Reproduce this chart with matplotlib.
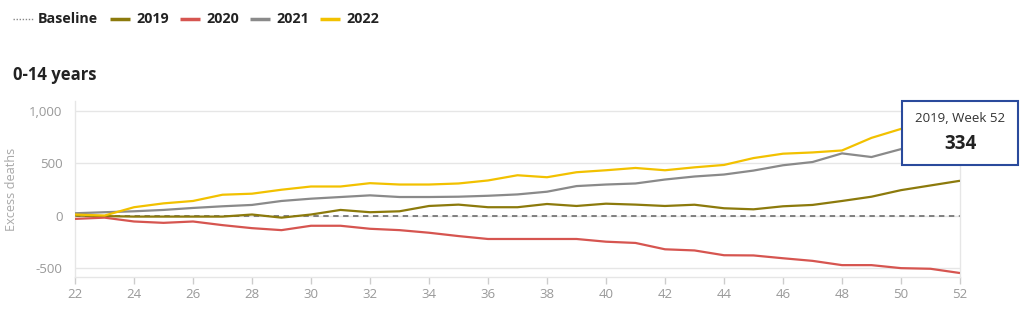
import numpy as np
import matplotlib
matplotlib.use("Agg")
import matplotlib.pyplot as plt
from matplotlib.lines import Line2D
from matplotlib.patches import Rectangle

plt.rcParams['font.family'] = ['Open Sans', 'DejaVu Sans']

# Weekly excess deaths, ages 0-14
weeks = list(range(22, 53))
deaths_2019 = [0, -5, -10, -10, -10, -10, 10, -20, 10, 54, 32, 41, 92, 105, 80, 80,
               111, 92, 114, 105, 92, 104, 70, 60, 89, 102, 140, 181, 244, 289, 334]
deaths_2020 = [-32, -20, -57, -70, -57, -92, -121, -140, -98, -98, -127, -140, -165, -197,
               -225, -225, -225, -225, -251, -263, -324, -335, -381, -383, -410, -435,
               -476, -476, -505, -511, -552]
deaths_2021 = [22, 32, 41, 54, 73, 89, 102, 140, 162, 178, 194, 178, 178, 181, 190, 203,
               229, 283, 298, 308, 346, 375, 394, 432, 483, 514, 597, 562, 638, 690, 730]
deaths_2022 = [10, 0, 80, 117, 140, 200, 210, 248, 279, 279, 311, 298, 298, 308, 337, 387,
               368, 416, 435, 457, 435, 463, 486, 552, 594, 606, 625, 746, 832, 900, 960]
series_names = ["2019", "2020", "2021", "2022"]
series_colors = ["#8c7a0c", "#d65550", "#8a8a8a", "#f2c100"]
yticks = [-500, 0, 500, 1000]
xticks = list(range(22, 53, 2))

W, H = 1024, 323
fig = plt.figure(figsize=(W / 100, H / 100), dpi=100)
ax = fig.add_axes([75 / W, 1 - 277 / H, (960 - 75) / W, (277 - 101) / H])

grey_txt = "#a6a6a6"
grid_c = "#e6e6e6"

ax.plot(weeks, [0] * len(weeks), color="#777777", lw=1.3, ls=(0, (3, 2.5)), zorder=2)
for vals, c in zip([deaths_2019, deaths_2020, deaths_2021, deaths_2022], series_colors):
    ax.plot(weeks, vals, color=c, lw=1.6, zorder=3, solid_capstyle="butt")

ax.set_xlim(22, 52)
ax.set_ylim(-590, 1100)
ax.set_xticks(xticks)
ax.set_yticks(yticks)
ax.set_yticklabels([f"{v:,}" for v in yticks])
ax.tick_params(axis="both", colors=grey_txt, labelsize=9.5, labelcolor="#999999")
ax.tick_params(axis="y", length=0, pad=9)
ax.tick_params(axis="x", length=5, width=1, color="#cccccc", pad=3)
ax.grid(axis="y", color=grid_c, lw=1)
for side in ["left", "right", "bottom"]:
    ax.spines[side].set_color(grid_c)
    ax.spines[side].set_linewidth(1)
ax.spines["top"].set_visible(False)
ax.set_ylabel("Excess deaths", color="#a8a8a8", fontsize=9.2)
ax.yaxis.set_label_coords(-57 / (960 - 75), 0.5)

# legend drawn by hand along the top
def fx(px):
    return px / W

def fy(py):
    return 1 - py / H

leg_y = 19
fig.add_artist(Line2D([fx(13), fx(33)], [fy(leg_y), fy(leg_y)], color="#888888",
                      lw=1, ls=(0, (1, 1.2))))
fig.text(fx(38), fy(leg_y), "Baseline", fontsize=10.3, fontweight="bold", color="#222222",
         va="center", ha="left")
x0 = 110
for name, c in zip(series_names, series_colors):
    fig.add_artist(Line2D([fx(x0), fx(x0 + 20)], [fy(leg_y), fy(leg_y)], color=c,
                          lw=2.5, solid_capstyle="butt"))
    fig.text(fx(x0 + 26), fy(leg_y), name, fontsize=10.3, fontweight="bold",
             color="#222222", va="center", ha="left")
    x0 += 70

fig.text(fx(13), fy(75), "0-14 years", fontsize=12, fontweight="bold", color="#222222",
         va="center", ha="left")

# tooltip for the last 2019 point
fig.add_artist(Rectangle((fx(902), fy(165)), fx(1018 - 902), (165 - 101) / H,
                         facecolor="white", edgecolor="#2a4a9c", lw=1.5, zorder=10))
fig.text(fx(960), fy(119), f"{series_names[0]}, Week {weeks[-1]}", fontsize=9.5,
         color="#333333", ha="center", va="center", zorder=11)
fig.text(fx(960), fy(144), f"{deaths_2019[-1]}", fontsize=13.5, fontweight="bold",
         color="#222222", ha="center", va="center", zorder=11)

fig.savefig("out.png", dpi=100)
